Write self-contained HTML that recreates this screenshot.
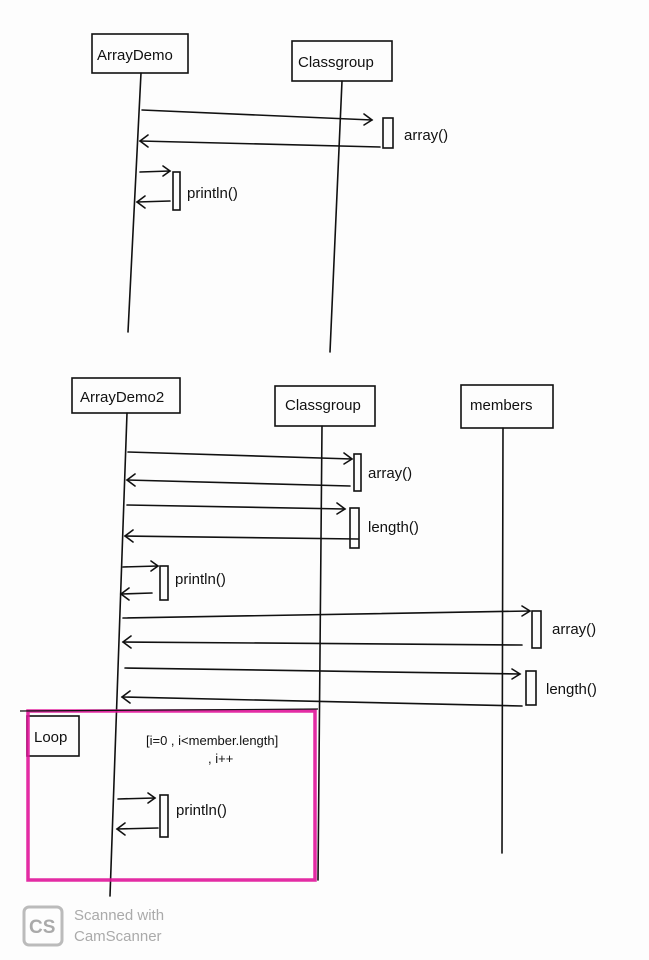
<!DOCTYPE html>
<html><head><meta charset="utf-8"><style>
html,body{margin:0;padding:0;background:#fff;}
svg{display:block;}
text{font-family:"Liberation Sans",sans-serif;fill:#111;}
</style></head><body>
<svg width="649" height="960" viewBox="0 0 649 960" xmlns="http://www.w3.org/2000/svg">
<rect width="649" height="960" fill="#fdfdfd"/>
<g stroke="#111" stroke-width="1.6" fill="none" stroke-linecap="round">
<!-- top diagram -->
<rect x="92" y="34" width="96" height="39"/>
<rect x="292" y="41" width="100" height="40"/>
<line x1="141" y1="73" x2="128" y2="332"/>
<line x1="342" y1="81" x2="330" y2="352"/>
<line x1="142" y1="110" x2="372" y2="120"/>
<polyline points="364,114 372,120 364,125"/>
<rect x="383" y="118" width="10" height="30"/>
<line x1="380" y1="147" x2="140" y2="141"/>
<polyline points="148,135 140,141 148,147"/>
<line x1="140" y1="172" x2="170" y2="171"/>
<polyline points="163,166 170,171 163,176"/>
<rect x="173" y="172" width="7" height="38"/>
<line x1="170" y1="201" x2="137" y2="202"/>
<polyline points="145,196 137,202 145,208"/>
<!-- bottom diagram -->
<rect x="72" y="378" width="108" height="35"/>
<rect x="275" y="386" width="100" height="40"/>
<rect x="461" y="385" width="92" height="43"/>
<line x1="127" y1="413" x2="110" y2="896"/>
<line x1="322" y1="426" x2="318" y2="880"/>
<line x1="503" y1="428" x2="502" y2="853"/>
<line x1="128" y1="452" x2="352" y2="459"/>
<polyline points="344,453 352,459 344,464"/>
<rect x="354" y="454" width="7" height="37"/>
<line x1="350" y1="486" x2="127" y2="480"/>
<polyline points="135,474 127,480 135,486"/>
<line x1="127" y1="505" x2="345" y2="509"/>
<polyline points="337,503 345,509 337,514"/>
<rect x="350" y="508" width="9" height="40"/>
<line x1="358" y1="539" x2="125" y2="536"/>
<polyline points="133,530 125,536 133,542"/>
<line x1="123" y1="567" x2="158" y2="566"/>
<polyline points="151,561 158,566 151,571"/>
<rect x="160" y="566" width="8" height="34"/>
<line x1="152" y1="593" x2="121" y2="594"/>
<polyline points="129,588 121,594 129,600"/>
<line x1="123" y1="618" x2="530" y2="611"/>
<polyline points="522,606 530,611 522,616"/>
<rect x="532" y="611" width="9" height="37"/>
<line x1="522" y1="645" x2="123" y2="642"/>
<polyline points="131,636 123,642 131,648"/>
<line x1="125" y1="668" x2="520" y2="674"/>
<polyline points="512,669 520,674 512,679"/>
<rect x="526" y="671" width="10" height="34"/>
<line x1="522" y1="706" x2="122" y2="697"/>
<polyline points="130,691 122,697 130,703"/>
<line x1="118" y1="799" x2="155" y2="798"/>
<polyline points="148,793 155,798 148,803"/>
<rect x="160" y="795" width="8" height="42"/>
<line x1="158" y1="828" x2="117" y2="829"/>
<polyline points="125,823 117,829 125,835"/>
<rect x="27" y="716" width="52" height="40"/>
</g>
<rect x="28" y="711" width="287" height="169" fill="none" stroke="#e0159a" stroke-width="3.5" opacity="0.9"/>
<line x1="20" y1="711" x2="318" y2="709" stroke="#111" stroke-width="1.2"/>
<g font-size="15">
<text x="97" y="60">ArrayDemo</text>
<text x="298" y="67">Classgroup</text>
<text x="404" y="140">array()</text>
<text x="187" y="198">println()</text>
<text x="80" y="402">ArrayDemo2</text>
<text x="285" y="410">Classgroup</text>
<text x="470" y="410">members</text>
<text x="368" y="478">array()</text>
<text x="368" y="532">length()</text>
<text x="175" y="584">println()</text>
<text x="552" y="634">array()</text>
<text x="546" y="694">length()</text>
<text x="34" y="742">Loop</text>
<text x="146" y="745" font-size="13">[i=0 , i&lt;member.length]</text>
<text x="208" y="763" font-size="13">, i++</text>
<text x="176" y="815">println()</text>
</g>
<rect x="24" y="907" width="38" height="38" rx="5" fill="none" stroke="#bbb" stroke-width="3"/>
<text x="29" y="933" font-size="19" font-weight="bold" style="fill:#aaa">CS</text>
<text x="74" y="920" font-size="15" style="fill:#aaa">Scanned with</text>
<text x="74" y="941" font-size="15" style="fill:#aaa">CamScanner</text>
</svg>
</body></html>
